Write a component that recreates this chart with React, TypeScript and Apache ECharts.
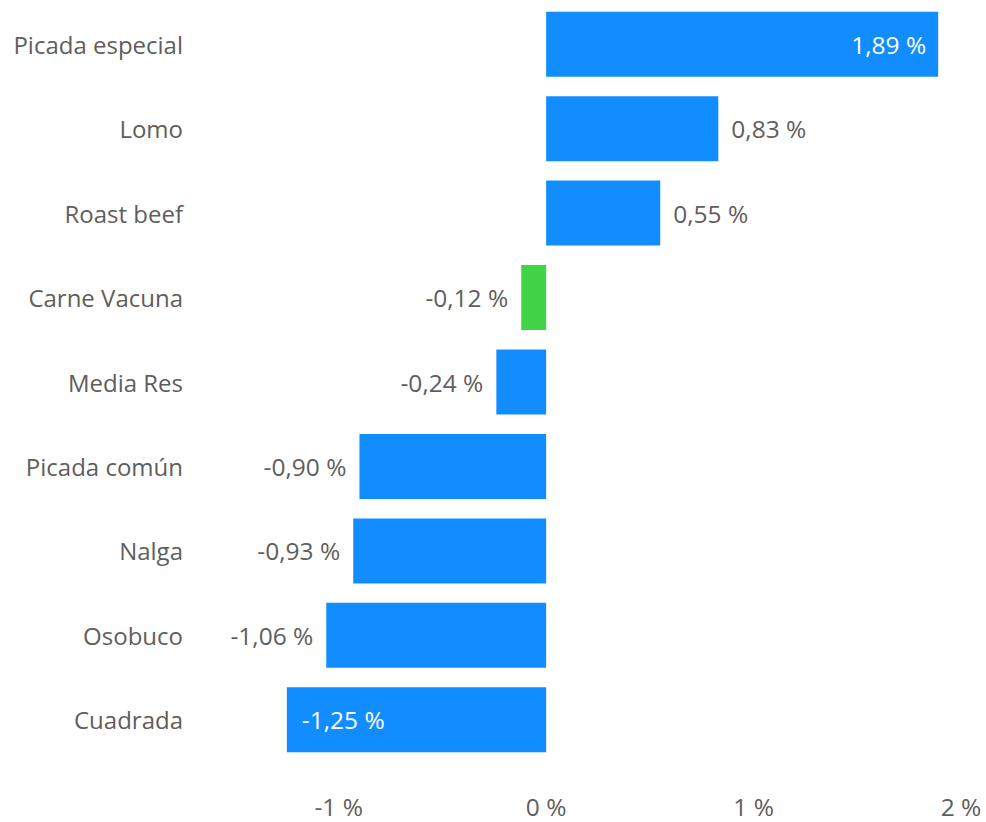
import React, { useEffect, useRef } from "react";
import * as echarts from "echarts";

const categories = [
  "Picada especial",
  "Lomo",
  "Roast beef",
  "Carne Vacuna",
  "Media Res",
  "Picada común",
  "Nalga",
  "Osobuco",
  "Cuadrada",
];
const values = [1.89, 0.83, 0.55, -0.12, -0.24, -0.9, -0.93, -1.06, -1.25];
const highlighted = ["Carne Vacuna"];
const insideLabels = ["Picada especial", "Cuadrada"];
const tickValues = [-1, 0, 1, 2];

const BLUE = "#118DFF";
const GREEN = "#41D444";
const TEXT = "#605E5C";
const FONT = "'Open Sans', 'Noto Sans', sans-serif";

const fmt = (v: number) => v.toFixed(2).replace(".", ",") + " %";

export default function App() {
  const ref = useRef<HTMLDivElement>(null);
  useEffect(() => {
    if (!ref.current) return;
    const chart = echarts.init(ref.current, undefined, { renderer: "svg" });
    const data = values.map((v, i) => {
      const name = categories[i];
      const inside = insideLabels.includes(name);
      return {
        value: v,
        itemStyle: { color: highlighted.includes(name) ? GREEN : BLUE },
        label: {
          show: true,
          position: inside ? (v >= 0 ? "insideRight" : "insideLeft") : v >= 0 ? "right" : "left",
          distance: inside ? (v >= 0 ? 12 : 15) : 13,
          color: inside ? "#FFFFFF" : TEXT,
          fontSize: 24.5,
          fontFamily: FONT,
          formatter: (p: any) => fmt(p.value),
        },
      };
    });
    chart.setOption({
      animation: false,
      grid: { left: 235, right: 25, top: 2, bottom: 60, containLabel: false },
      xAxis: {
        type: "value",
        min: -1.5,
        max: 2,
        interval: 0.5,
        axisLine: { show: false },
        axisTick: { show: false },
        splitLine: { show: false },
        axisLabel: {
          margin: 32,
          color: TEXT,
          fontSize: 24.5,
          fontFamily: FONT,
          formatter: (v: number) => (tickValues.includes(v) ? `${v} %` : ""),
        },
      },
      yAxis: {
        type: "category",
        inverse: true,
        data: categories,
        axisLine: { show: false },
        axisTick: { show: false },
        axisLabel: { margin: 52, color: TEXT, fontSize: 24, fontFamily: FONT },
      },
      series: [
        {
          type: "bar",
          data,
          barWidth: 65,
        },
      ],
    });
    return () => chart.dispose();
  }, []);
  return (
    <div
      ref={ref}
      style={{ position: "fixed", left: 0, top: 0, width: 986, height: 822, background: "#fff" }}
    />
  );
}
